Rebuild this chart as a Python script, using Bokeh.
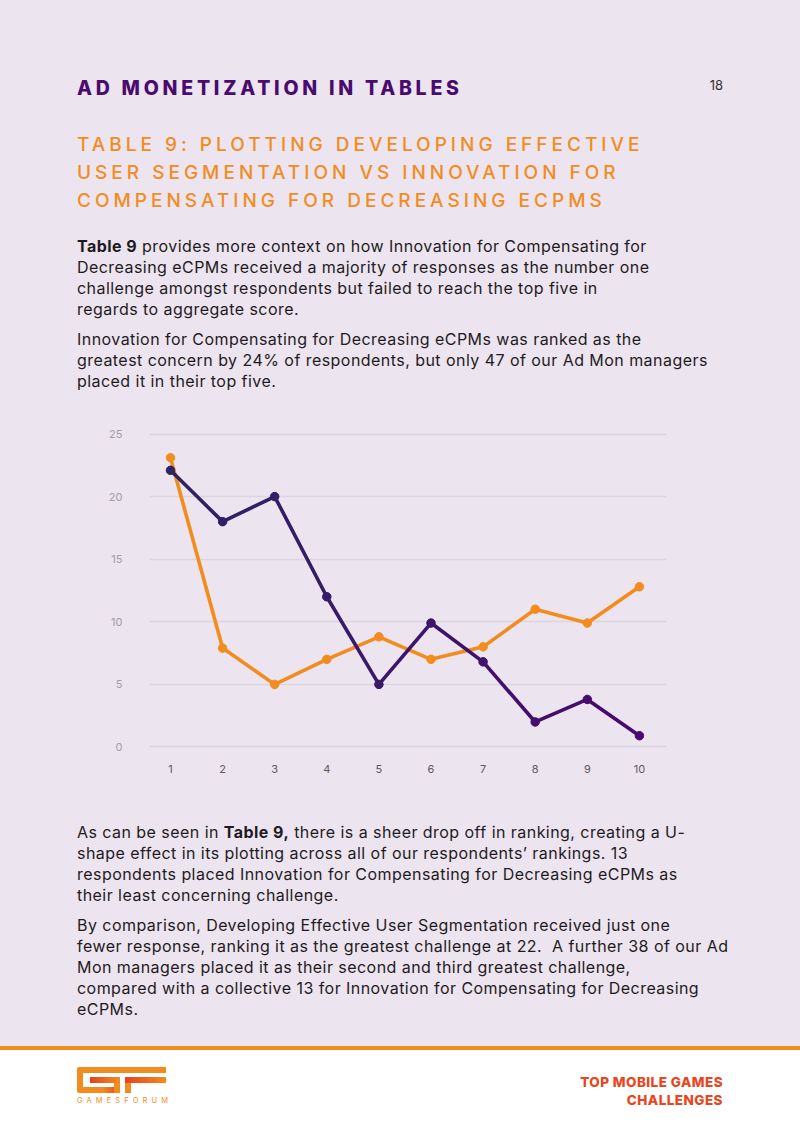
import numpy as np
from bokeh.plotting import figure
from bokeh.models import Div, ColumnDataSource, Range1d, FixedTicker
from bokeh.layouts import column
from bokeh.embed import file_html
from bokeh.resources import INLINE

# ---------------- data ----------------
ranks = [1, 2, 3, 4, 5, 6, 7, 8, 9, 10]
innovation = [23.1, 7.9, 5, 7, 8.8, 7, 8, 11, 9.9, 12.8]      # orange
segmentation = [22.1, 18, 20, 12, 5, 9.9, 6.8, 2, 3.8, 0.9]   # purple
y_ticks = [0, 5, 10, 15, 20, 25]

BG = "#ECE4EF"
ORANGE = "#F28C1F"
PURPLE_A = np.array([0x2C, 0x24, 0x66])
PURPLE_B = np.array([0x4B, 0x08, 0x70])
FONT = "Inter, 'Open Sans', sans-serif"
W = 800

def hexc(c):
    return "#%02x%02x%02x" % tuple(int(round(v)) for v in c)

def line_block(lines, left, top, lh, style):
    inner = "<br>".join(lines)
    return (f'<div style="position:absolute;left:{left}px;top:{top}px;line-height:{lh}px;'
            f'white-space:nowrap;{style}">{inner}</div>')

body_style = f"font-family:{FONT};font-size:16px;color:#1f1b22;letter-spacing:0.45px;font-weight:400;"

# ---------------- top text block ----------------
top_html = f'<div style="position:relative;width:{W}px;height:420px;background:{BG};overflow:hidden;">'
top_html += line_block(["AD MONETIZATION IN TABLES"], 77, 76, 24,
                       f"font-family:{FONT};font-size:19.5px;font-weight:800;color:#4A0A6E;letter-spacing:3.75px;")
top_html += (f'<div style="position:absolute;right:77px;top:77px;line-height:16px;font-family:{FONT};'
             f'font-size:13px;color:#333;">18</div>')
top_html += line_block(["TABLE 9: PLOTTING DEVELOPING EFFECTIVE",
                        "USER SEGMENTATION VS INNOVATION FOR",
                        "COMPENSATING FOR DECREASING ECPMS"], 77, 131, 28,
                       f"font-family:{FONT};font-size:19px;font-weight:500;color:{ORANGE};letter-spacing:4.0px;")
top_html += line_block(["<b style='font-weight:700'>Table 9</b> provides more context on how Innovation for Compensating for",
                        "Decreasing eCPMs received a majority of responses as the number one",
                        "challenge amongst respondents but failed to reach the top five in",
                        "regards to aggregate score."], 77, 235.5, 21, body_style)
top_html += line_block(["Innovation for Compensating for Decreasing eCPMs was ranked as the",
                        "greatest concern by 24% of respondents, but only 47 of our Ad Mon managers",
                        "placed it in their top five."], 77, 328.5, 21, body_style)
top_html += "</div>"
top_div = Div(text=top_html, width=W, height=420, styles={"margin": "0", "padding": "0"})

# ---------------- chart ----------------
p = figure(width=W, height=360, output_backend="svg", toolbar_location=None,
           x_range=Range1d(0.597, 10.52), y_range=Range1d(-0.2, 25.2),
           frame_width=517, frame_height=318,
           min_border_left=149, min_border_right=134, min_border_top=11, min_border_bottom=31,
           styles={"background-color": BG})
p.background_fill_color = BG
p.border_fill_color = BG
p.outline_line_color = None

p.xgrid.grid_line_color = None
p.ygrid.grid_line_color = "#DCD4DF"
p.ygrid.grid_line_width = 1.3

for ax in (p.xaxis[0], p.yaxis[0]):
    ax.axis_line_color = None
    ax.major_tick_line_color = None
    ax.minor_tick_line_color = None
    ax.major_label_text_font = "Inter"
    ax.major_label_text_font_size = "11px"

p.yaxis[0].ticker = FixedTicker(ticks=y_ticks)
p.yaxis[0].major_label_text_color = "#A39DA8"
p.yaxis[0].major_label_standoff = 21
p.xaxis[0].ticker = FixedTicker(ticks=ranks)
p.xaxis[0].major_label_text_color = "#5E5963"
p.xaxis[0].major_label_standoff = 9

# orange series
src_o = ColumnDataSource(dict(x=ranks, y=innovation))
p.line("x", "y", source=src_o, line_color=ORANGE, line_width=3.6, line_join="round")
p.scatter("x", "y", source=src_o, size=8.5, fill_color=ORANGE, line_color=ORANGE)

# purple series with gradient colouring
n = len(ranks)
t = np.linspace(0, 1, n)
pt_cols = [hexc(PURPLE_A + (PURPLE_B - PURPLE_A) * v) for v in t]
seg_cols = [hexc(PURPLE_A + (PURPLE_B - PURPLE_A) * (t[i] + t[i + 1]) / 2) for i in range(n - 1)]
src_seg = ColumnDataSource(dict(x0=ranks[:-1], y0=segmentation[:-1], x1=ranks[1:], y1=segmentation[1:], c=seg_cols))
p.segment("x0", "y0", "x1", "y1", source=src_seg, line_color="c", line_width=3.6, line_cap="round")
src_p = ColumnDataSource(dict(x=ranks, y=segmentation, c=pt_cols))
p.scatter("x", "y", source=src_p, size=8.5, fill_color="c", line_color="c")

# ---------------- bottom text + footer ----------------
BH = 351
bot_html = f'<div style="position:relative;width:{W}px;height:{BH}px;background:#FFFFFF;overflow:hidden;">'
bot_html += f'<div style="position:absolute;left:0;top:0;width:{W}px;height:266px;background:{BG};"></div>'
bot_html += line_block(["As can be seen in <b style='font-weight:700'>Table 9,</b> there is a sheer drop off in ranking, creating a U-",
                        "shape effect in its plotting across all of our respondents\u2019 rankings. 13",
                        "respondents placed Innovation for Compensating for Decreasing eCPMs as",
                        "their least concerning challenge."], 77, 41.5, 21, body_style)
bot_html += line_block(["By comparison, Developing Effective User Segmentation received just one",
                        "fewer response, ranking it as the greatest challenge at 22.&nbsp; A further 38 of our Ad",
                        "Mon managers placed it as their second and third greatest challenge,",
                        "compared with a collective 13 for Innovation for Compensating for Decreasing",
                        "eCPMs."], 77, 134.5, 21, body_style)
bot_html += f'<div style="position:absolute;left:0;top:266px;width:{W}px;height:4px;background:{ORANGE};"></div>'
bot_html += (f'<div style="position:absolute;right:77px;top:293px;line-height:18px;text-align:right;'
             f'font-family:{FONT};font-size:13.5px;font-weight:800;letter-spacing:0.45px;color:#E8461E;">'
             f'TOP MOBILE GAMES<br>CHALLENGES</div>')

# logo (decorative)
def box(l, t, w, h, bg, rad="0"):
    return (f'<div style="position:absolute;left:{l}px;top:{t}px;width:{w}px;height:{h}px;'
            f'background:{bg};border-radius:{rad};"></div>')
grad = f"linear-gradient(90deg,#E8401E,{ORANGE})"
bot_html += box(77, 287, 89, 6, ORANGE, "3px 0 0 0")
bot_html += box(77, 287, 6, 26, ORANGE, "3px 0 0 3px")
bot_html += box(77, 307, 43, 6, f"linear-gradient(90deg,{ORANGE} 60%,#E8401E)", "0 0 0 3px")
bot_html += box(114, 297, 6, 16, ORANGE)
bot_html += box(90, 297, 30, 6, grad)
bot_html += box(125, 297, 6, 16, ORANGE)
bot_html += box(125, 297, 41, 6, grad)
bot_html += (f'<div style="position:absolute;left:77px;top:316px;line-height:10px;font-family:{FONT};'
             f'font-size:7.5px;color:{ORANGE};letter-spacing:4.1px;white-space:nowrap;">GAMESFORUM</div>')
bot_html += "</div>"
bot_div = Div(text=bot_html, width=W, height=BH, styles={"margin": "0", "padding": "0"})

layout = column(top_div, p, bot_div, spacing=0, styles={"background-color": BG})
open("out.html", "w").write(file_html(layout, INLINE))
